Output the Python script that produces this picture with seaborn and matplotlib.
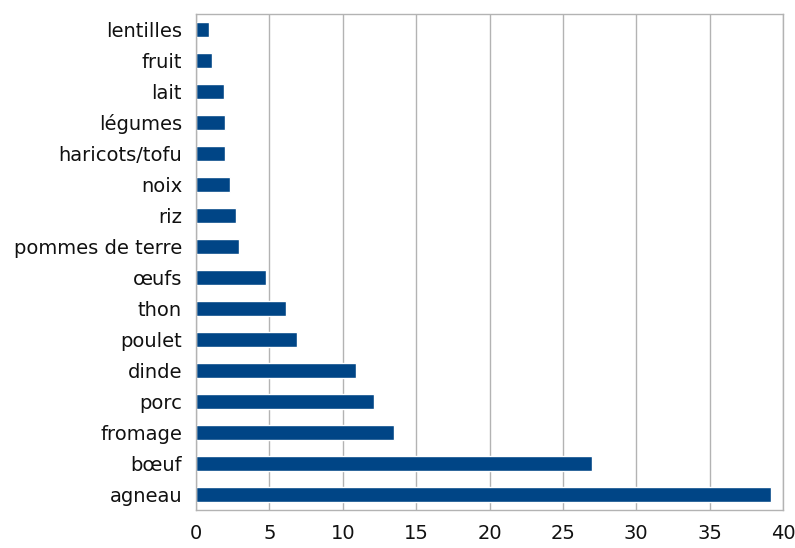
import numpy as np
import pandas as pd
import seaborn as sns
import matplotlib.pyplot as plt
from matplotlib.ticker import FixedLocator, MultipleLocator

# kg CO2e per kg of food
foods = ['lentilles', 'fruit', 'lait', 'légumes', 'haricots/tofu', 'noix', 'riz',
         'pommes de terre', 'œufs', 'thon', 'poulet', 'dinde', 'porc', 'fromage',
         'bœuf', 'agneau']
values = [0.9, 1.1, 1.9, 2.0, 2.0, 2.3, 2.7, 2.9, 4.8, 6.1, 6.9, 10.9, 12.1, 13.5,
          27.0, 39.2]

df = pd.DataFrame({'food': foods, 'value': values})

sns.set_style('white')
plt.rcParams['font.family'] = ['DejaVu Sans']

fig = plt.figure(figsize=(7.95, 5.48), dpi=100)
ax = fig.add_axes([196 / 795, 38 / 548, 587 / 795, 496 / 548])

sns.barplot(data=df, x='value', y='food', order=foods, color='#004586',
            width=0.5, saturation=1, ax=ax)

grid_c = '#b3b3b3'
ax.set_xlim(0, 40)
ax.set_ylim(len(foods) - 0.5, -0.5)
ax.xaxis.set_major_locator(MultipleLocator(5))
ax.grid(axis='x', color=grid_c, linewidth=1)
ax.set_axisbelow(True)

for s in ax.spines.values():
    s.set_color(grid_c)
    s.set_linewidth(1)

ax.yaxis.set_minor_locator(FixedLocator(np.arange(-0.5, len(foods), 1)))
ax.tick_params(axis='y', which='major', length=0, pad=10, labelsize=14,
               labelcolor='#111111')
ax.tick_params(axis='y', which='minor', length=6, color=grid_c, direction='out')
ax.tick_params(axis='x', which='major', length=5, color=grid_c, labelsize=14,
               labelcolor='#111111', pad=5)

ax.set_xlabel('')
ax.set_ylabel('')

plt.savefig('out.png', dpi=100)
